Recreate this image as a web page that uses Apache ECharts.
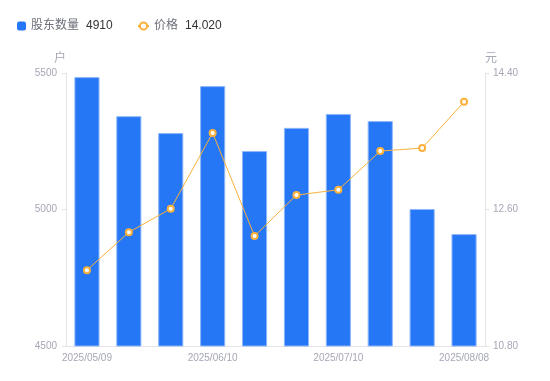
<!DOCTYPE html>
<html><head><meta charset="utf-8">
<script src="https://cdn.jsdelivr.net/npm/echarts@6/dist/echarts.min.js"></script>
<style>html,body{margin:0;padding:0;background:#fff}#c{width:550px;height:381px}</style>
</head><body><div id="c"></div>
<script>
const categories = ['2025/05/09','2025/05/20','2025/05/30','2025/06/10','2025/06/20','2025/06/30','2025/07/10','2025/07/20','2025/07/31','2025/08/08'];
const holders = [5485, 5342, 5280, 5452, 5214, 5299, 5350, 5324, 5002, 4910];
const prices = [11.80, 12.30, 12.61, 13.61, 12.25, 12.79, 12.86, 13.37, 13.41, 14.02];
const leftTicks = {min: 4500, max: 5500, interval: 500};
const rightTicks = {min: 10.8, max: 14.4, interval: 1.8};

const chart = echarts.init(document.getElementById('c'));
const ff = '"Liberation Sans","Noto Sans CJK SC",sans-serif';
const legendText = {
  fontSize: 12, fontFamily: ff,
  rich: {
    n: {color: '#6e7079', fontSize: 12, fontFamily: ff},
    v: {color: '#333', fontSize: 12, fontFamily: ff, padding: [0, 0, 0, 7]}
  }
};
chart.setOption({
  animation: false,
  textStyle: {fontFamily: ff},
  legend: [{
    left: 12, top: 15, itemWidth: 9, itemHeight: 9,
    textStyle: legendText,
    data: [{name: '股东数量', icon: 'roundRect', itemStyle: {borderWidth: 0}}],
    formatter: n => '{n|' + n + '}{v|' + holders[holders.length - 1] + '}'
  }, {
    left: 132, top: 15, itemWidth: 11, itemHeight: 9,
    textStyle: legendText,
    data: [{name: '价格'}],
    formatter: n => '{n|' + n + '}{v|' + prices[prices.length - 1].toFixed(3) + '}'
  }],
  grid: {left: 66, right: 65, top: 73, bottom: 35},
  xAxis: {
    type: 'category', data: categories,
    axisLine: {lineStyle: {color: '#e3e3e8'}},
    axisTick: {show: false},
    axisLabel: {color: '#a5a7b5', fontSize: 10, interval: 2, margin: 7, fontFamily: ff}
  },
  yAxis: [{
    type: 'value', name: '户', min: leftTicks.min, max: leftTicks.max, interval: leftTicks.interval,
    nameTextStyle: {color: '#a5a7b5', fontSize: 12, align: 'right', padding: [0, 0, 0, 0]},
    nameGap: 8,
    axisLine: {show: true, lineStyle: {color: '#e3e3e8'}},
    axisTick: {show: true, length: 4, lineStyle: {color: '#e3e3e8'}},
    splitLine: {show: false},
    axisLabel: {color: '#a5a7b5', fontSize: 10, margin: 9, fontFamily: ff, formatter: v => String(v)}
  }, {
    type: 'value', name: '元', min: rightTicks.min, max: rightTicks.max, interval: rightTicks.interval,
    nameTextStyle: {color: '#a5a7b5', fontSize: 12, align: 'left'},
    nameGap: 8,
    axisLine: {show: true, lineStyle: {color: '#e3e3e8'}},
    axisTick: {show: true, length: 4, lineStyle: {color: '#e3e3e8'}},
    splitLine: {show: false},
    axisLabel: {color: '#a5a7b5', fontSize: 10, margin: 8, fontFamily: ff, formatter: v => v.toFixed(2)}
  }],
  series: [{
    name: '股东数量', type: 'bar', data: holders, barWidth: '60%',
    itemStyle: {color: '#2677f5', borderColor: '#8fb8fa', borderWidth: 1}
  }, {
    name: '价格', type: 'line', yAxisIndex: 1, data: prices,
    symbol: 'emptyCircle', symbolSize: 6,
    lineStyle: {color: '#fbb13c', width: 1},
    itemStyle: {color: '#fbb13c', borderWidth: 2}
  }]
});
</script></body></html>
